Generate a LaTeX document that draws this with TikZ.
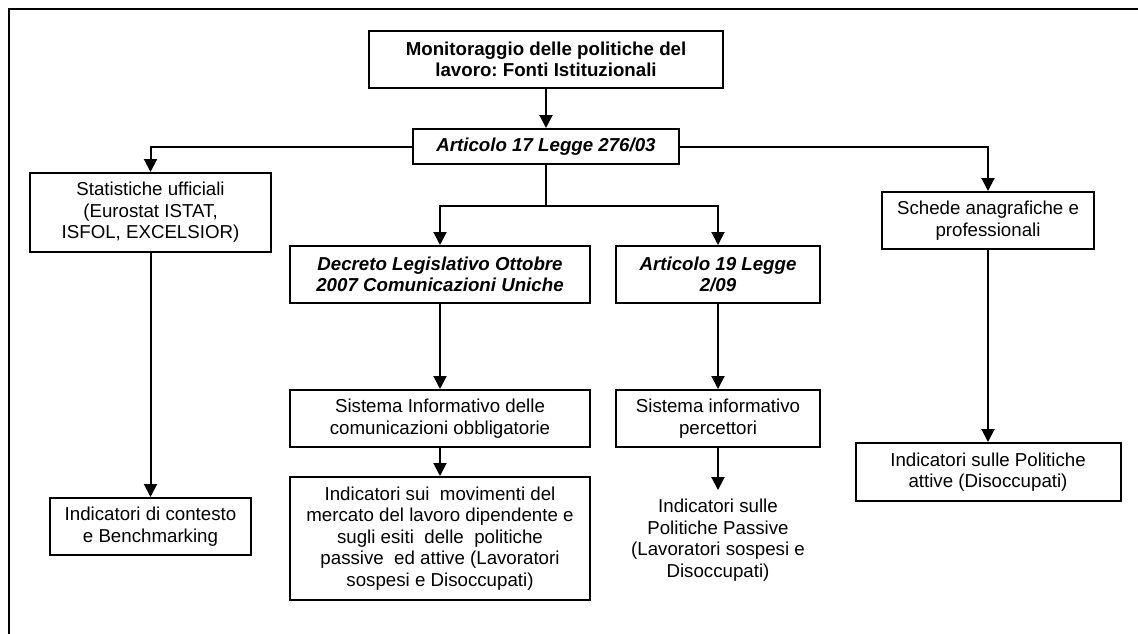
\documentclass[tikz,border=0pt]{standalone}
\usepackage{fontspec}
\setmainfont{Liberation Sans}
\usetikzlibrary{arrows.meta}
\frenchspacing

\begin{document}
\begin{tikzpicture}[x=1pt,y=-1pt,line width=2pt,
    box/.style={draw,align=center,inner sep=2pt,
      font=\fontsize{18.7}{21.5}\selectfont},
    legge/.style={box,font=\fontsize{18.7}{21.5}\selectfont\bfseries\itshape},
    arr/.style={-{Triangle[length=13pt,width=13pt]}}]
        \useasboundingbox (0,0) rectangle (1138,634);
        % Frame
        \draw[line width=2.2pt] (9,634) -- (9,9) -- (1138,9);
        % Sources
        \node[box,font=\fontsize{18.7}{21.5}\selectfont\bfseries,
          minimum width=354pt,minimum height=57pt] (mon) at (546,59.5)
          {Monitoraggio delle politiche del\\lavoro: Fonti Istituzionali};
        \node[legge,minimum width=266pt,minimum height=35pt] (art17) at (546,146.5)
          {Articolo 17 Legge 276/03};
        \node[box,minimum width=241pt,minimum height=79pt] (stat) at (150.5,212.5)
          {Statistiche ufficiali\\(Eurostat ISTAT,\\ISFOL, EXCELSIOR)};
        \node[box,minimum width=212pt,minimum height=57pt] (schede) at (988,220.5)
          {Schede anagrafiche e\\professionali};
        \node[legge,minimum width=300pt,minimum height=57pt] (decreto) at (440,274.5)
          {Decreto Legislativo Ottobre\\2007 Comunicazioni Uniche};
        \node[legge,minimum width=204pt,minimum height=57pt] (art19) at (718,274.5)
          {Articolo 19 Legge\\2/09};
        % Systems
        \node[box,minimum width=300pt,minimum height=57pt] (sicob) at (440,418.5)
          {Sistema Informativo delle\\comunicazioni obbligatorie};
        \node[box,minimum width=204pt,minimum height=57pt] (sip) at (718,418.5)
          {Sistema informativo\\percettori};
        % Indicators
        \node[box,minimum width=201pt,minimum height=57pt] (indctx) at (150.5,526.5)
          {Indicatori di contesto\\e Benchmarking};
        \node[box,minimum width=300pt,minimum height=123pt] (indmov) at (440,538.5)
          {Indicatori sui~ movimenti del\\mercato del lavoro dipendente e\\
           sugli esiti~ delle~ politiche\\passive~ ed attive (Lavoratori\\
           sospesi e Disoccupati)};
        \node[box,draw=none,inner sep=8pt] (indpass) at (718,540)
          {Indicatori sulle\\Politiche Passive\\(Lavoratori sospesi e\\Disoccupati)};
        \node[box,minimum width=265pt,minimum height=58pt] (indatt) at (988,472)
          {Indicatori sulle Politiche\\attive (Disoccupati)};
        % Arrows
        \coordinate (split) at (546,206);
        \draw[arr] (mon) -- (art17);
        \draw[arr] (art17.west) -| (stat.north);
        \draw[arr] (art17.east) -| (schede.north);
        \draw (art17) -- (split);
        \draw[arr] (split) -| (decreto.north);
        \draw[arr] (split) -| (art19.north);
        \draw[arr] (stat) -- (indctx);
        \draw[arr] (decreto) -- (sicob);
        \draw[arr] (sicob) -- (indmov);
        \draw[arr] (art19) -- (sip);
        \draw[arr] (sip) -- (indpass);
        \draw[arr] (schede) -- (indatt);
\end{tikzpicture}
\end{document}
